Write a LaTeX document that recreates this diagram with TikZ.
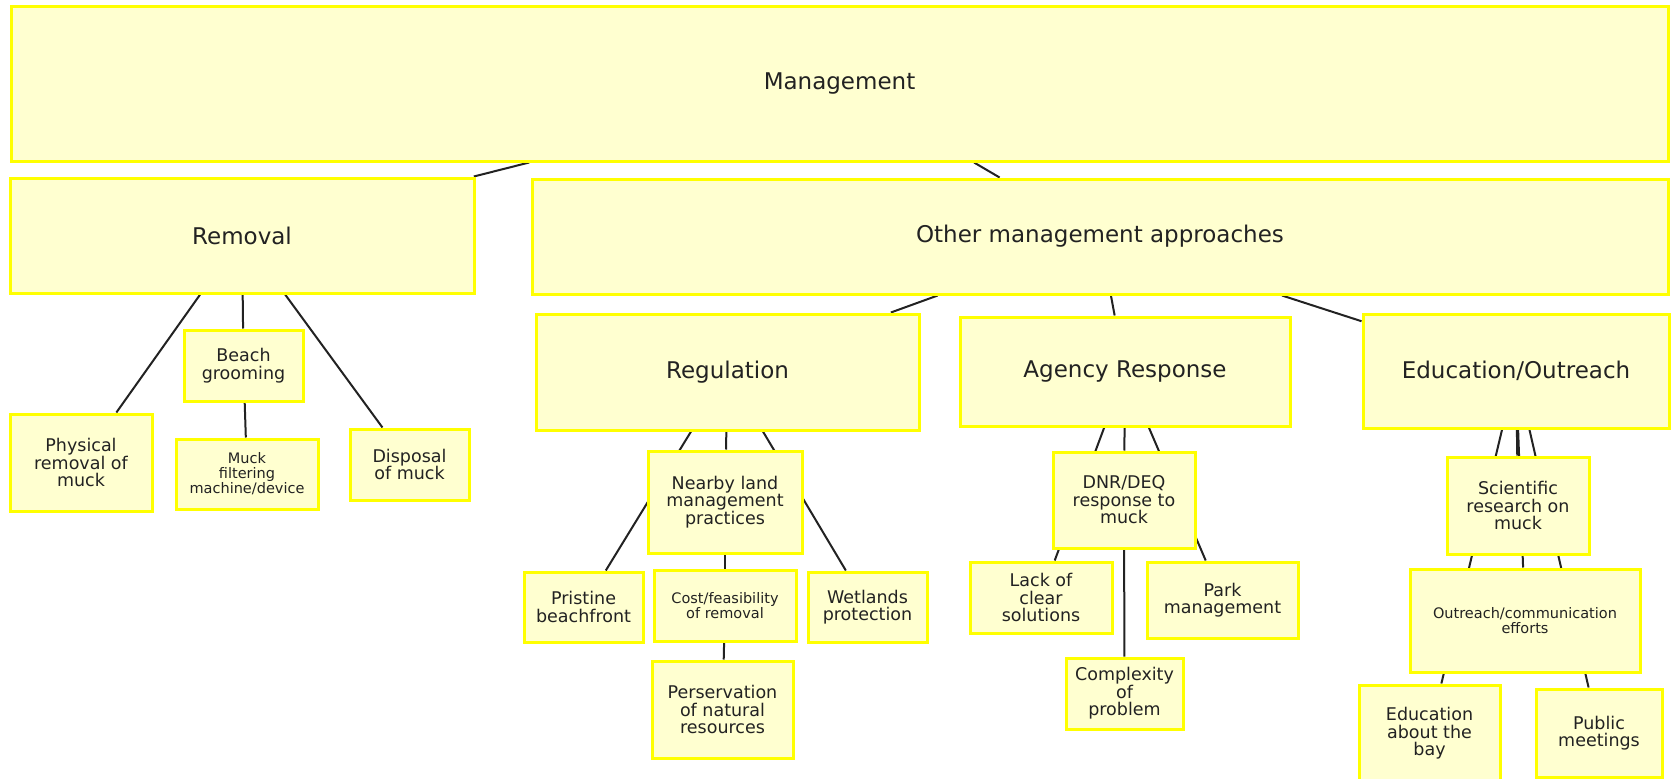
\documentclass[tikz,border=0pt]{standalone}
\usepackage{fontspec}
\setmainfont{DejaVu Sans}
\usetikzlibrary{backgrounds}
\definecolor{boxfill}{RGB}{255,255,208}
\definecolor{boxline}{RGB}{255,255,0}
\definecolor{linkline}{RGB}{34,34,34}

\begin{document}
\begin{tikzpicture}[x=1pt,y=-1pt,
        box/.style={draw=boxline,fill=boxfill,line width=3pt,inner sep=0pt,align=center,text=linkline},
        big/.style={box,font=\fontsize{23}{26}\selectfont},
        mid/.style={box,font=\fontsize{17.5}{17.5}\selectfont},
        small/.style={box,font=\fontsize{14.5}{15}\selectfont},
        link/.style={draw=linkline,line width=2pt}]
        \useasboundingbox (0,0) rectangle (1671,779);

        \node[big,minimum width=1657pt,minimum height=155pt] (M) at (839.5,83.5) {Management};
        \node[big,minimum width=464pt,minimum height=115pt] (Rm) at (242,235.5) {Removal};
        \node[big,minimum width=1136pt,minimum height=115pt] (O) at (1100,236.5) {Other management approaches};

        \node[mid,minimum width=119pt,minimum height=71pt] (BG) at (243.5,365.5) {Beach\\grooming};
        \node[mid,minimum width=142pt,minimum height=97pt] (PR) at (81,462.5) {Physical\\removal of\\muck};
        \node[small,minimum width=142pt,minimum height=70pt] (MF) at (247,474) {Muck\\filtering\\machine/device};
        \node[mid,minimum width=119pt,minimum height=71pt] (DM) at (409.5,464.5) {Disposal\\of muck};

        \node[big,minimum width=383pt,minimum height=116pt] (Rg) at (727.5,372) {Regulation};
        \node[mid,minimum width=154pt,minimum height=102pt] (NL) at (725,502) {Nearby land\\management\\practices};
        \node[mid,minimum width=119pt,minimum height=70pt] (PB) at (583.5,607) {Pristine\\beachfront};
        \node[small,minimum width=142pt,minimum height=71pt] (CF) at (725,605.5) {Cost/feasibility\\of removal};
        \node[mid,minimum width=119pt,minimum height=70pt] (WP) at (867.5,607) {Wetlands\\protection};
        \node[mid,minimum width=141pt,minimum height=97pt] (PN) at (722.5,709.5) {Perservation\\of natural\\resources};

        \node[big,minimum width=330pt,minimum height=109pt] (A) at (1125,371.5) {Agency Response};
        \node[mid,minimum width=142pt,minimum height=96pt] (DD) at (1124,500) {DNR/DEQ\\response to\\muck};
        \node[mid,minimum width=142pt,minimum height=71pt] (LC) at (1041,597.5) {Lack of\\clear\\solutions};
        \node[mid,minimum width=151pt,minimum height=76pt] (PM) at (1222.5,600) {Park\\management};
        \node[mid,minimum width=117pt,minimum height=71pt] (CP) at (1124.5,693.5) {Complexity\\of\\problem};

        \node[big,minimum width=306pt,minimum height=114pt] (E) at (1516,371) {Education/Outreach};
        \node[mid,minimum width=142pt,minimum height=97pt] (SR) at (1518,505.5) {Scientific\\research on\\muck};
        \node[small,minimum width=230pt,minimum height=103pt] (OC) at (1525,620.5) {Outreach/communication\\efforts};
        \node[mid,minimum width=141pt,minimum height=97pt] (EB) at (1429.5,733.5) {Education\\about the\\bay};
        \node[mid,minimum width=126pt,minimum height=88pt] (PMt) at (1599,733) {Public\\meetings};

        \begin{scope}[on background layer]
        \draw[link] (M) -- (Rm);
        \draw[link] (M) -- (O);
        \draw[link] (Rm) -- (PR);
        \draw[link] (Rm) -- (BG);
        \draw[link] (Rm) -- (DM);
        \draw[link] (BG) -- (MF);
        \draw[link] (O) -- (Rg);
        \draw[link] (O) -- (A);
        \draw[link] (O) -- (E);
        \draw[link] (Rg) -- (NL);
        \draw[link] (Rg) -- (PB);
        \draw[link] (Rg) -- (WP);
        \draw[link] (NL) -- (CF);
        \draw[link] (CF) -- (PN);
        \draw[link] (A) -- (DD);
        \draw[link] (A) -- (LC);
        \draw[link] (A) -- (PM);
        \draw[link] (DD) -- (CP);
        \draw[link] (E) -- (SR);
        \draw[link] (E) -- (OC);
        \draw[link] (E) -- (EB);
        \draw[link] (E) -- (PMt);
        \end{scope}
      \end{tikzpicture}
\end{document}
